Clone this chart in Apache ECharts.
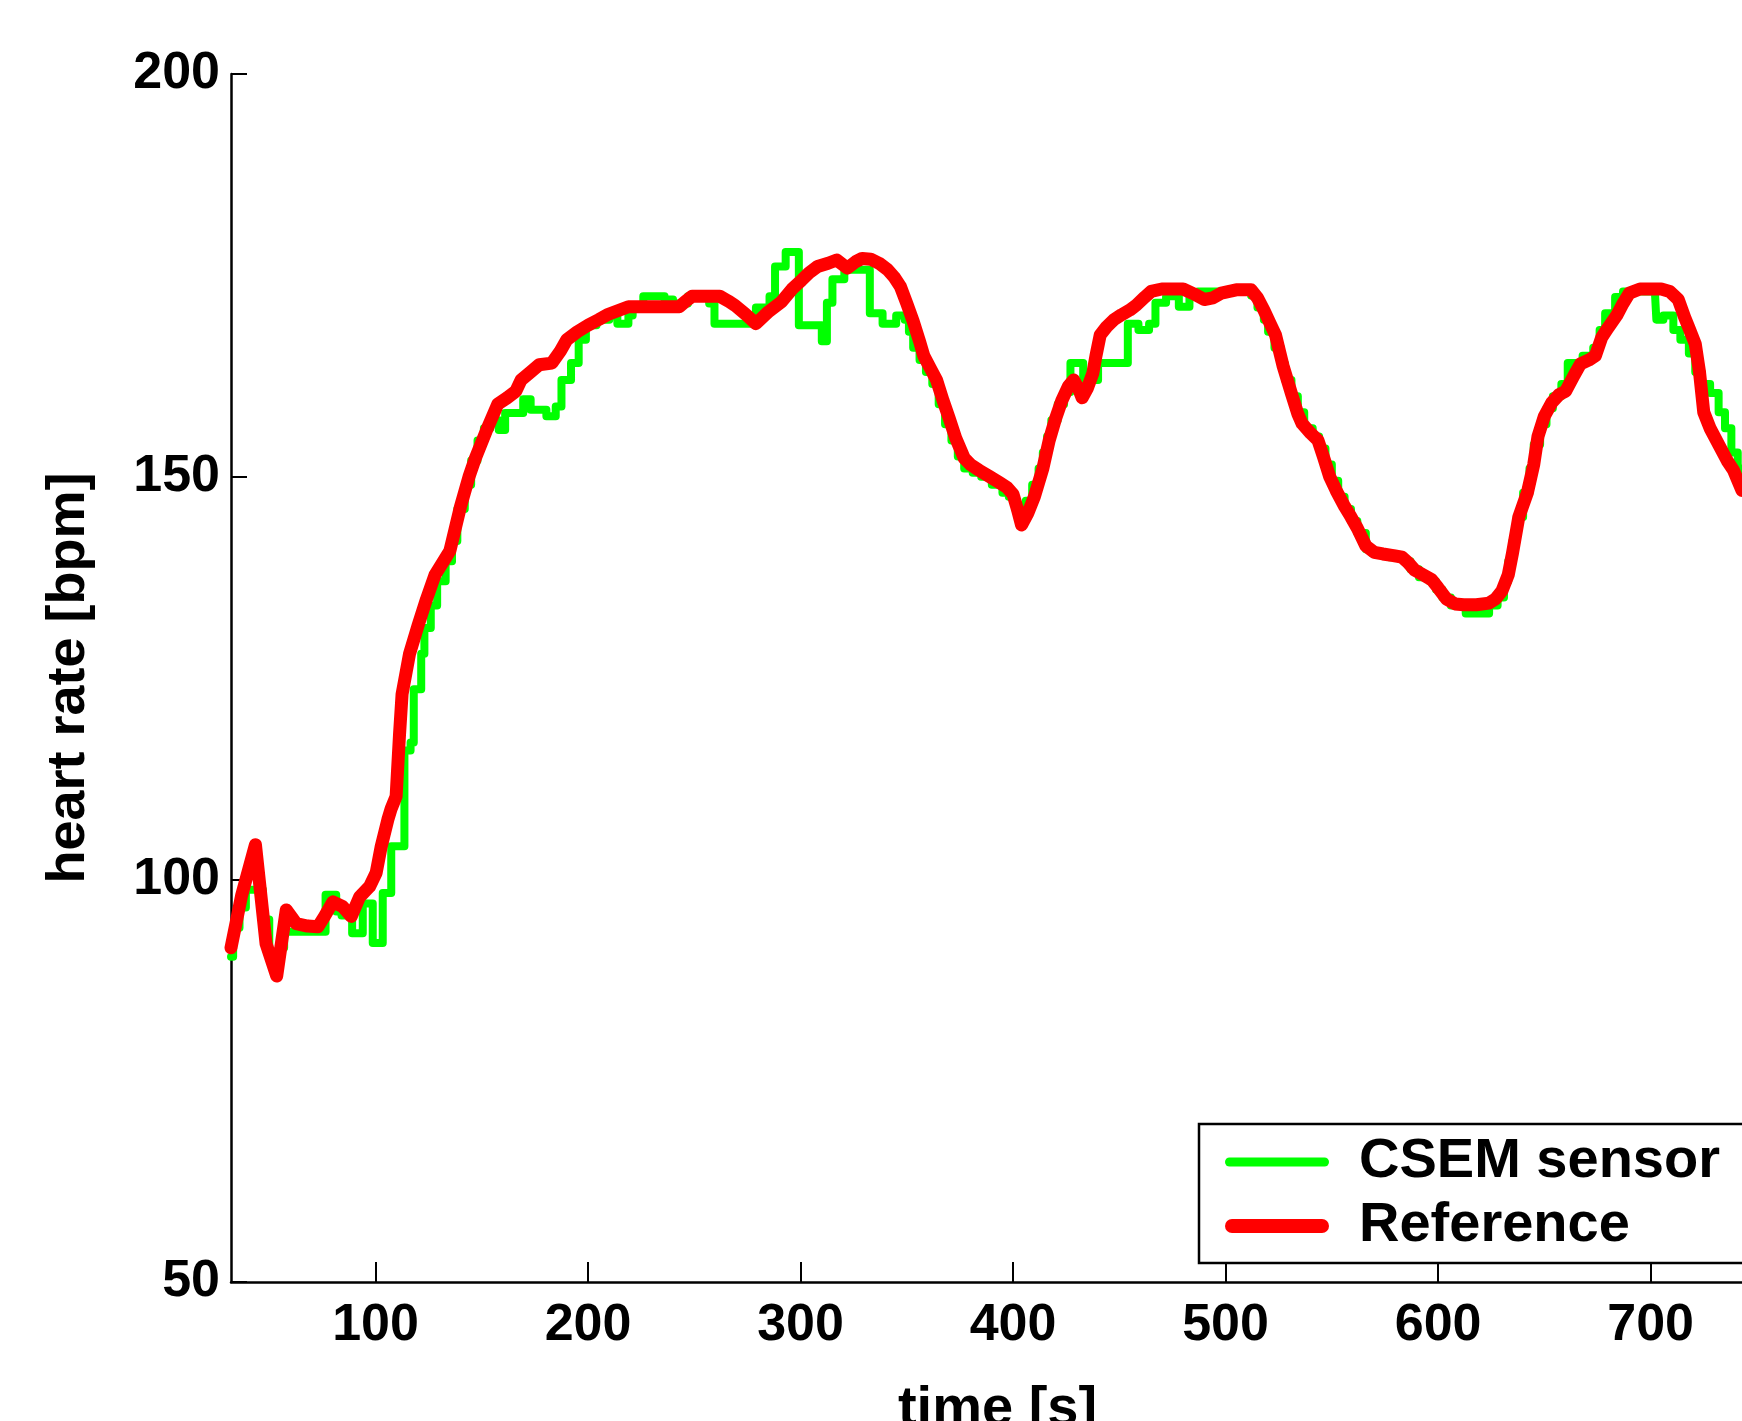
<!DOCTYPE html>
<html>
<head>
<meta charset="utf-8">
<script src="https://cdn.jsdelivr.net/npm/echarts@6/dist/echarts.min.js"></script>
<style>
html,body{margin:0;padding:0;background:#fff;}
#chart{width:1742px;height:1421px;}
</style>
</head>
<body>
<div id="chart"></div>
<script>
// ---- data ----
const xTicks = [100, 200, 300, 400, 500, 600, 700];
const yTicks = [50, 100, 150, 200];
const seriesNames = ['CSEM sensor', 'Reference'];

// Reference (red) [time s, heart rate bpm]
const referenceData = [
  [32, 91.5], [37, 98], [43.5, 104.3], [48.5, 92], [53.5, 88], [58, 96.2], [62.7, 94.5], [68, 94.2],
  [72.9, 94.1], [76, 95.4], [79.9, 97.2], [84.6, 96.6], [88.6, 95.4], [92.5, 97.8], [97.2, 99.1],
  [100.3, 100.8], [102.7, 104.1], [105.8, 107.4], [107.4, 108.8], [109.7, 110.3], [111.3, 118],
  [112.5, 123], [116, 128], [120, 131.5], [124, 134.8], [128, 137.8], [132, 139.5], [135, 140.8],
  [140, 146.3], [144, 150], [147, 152.3], [152, 155.6], [157.5, 159], [162, 159.8], [166, 160.6],
  [168.5, 162], [173, 163], [177, 163.9], [183, 164.1], [187, 165.6], [190, 167], [195, 168],
  [200, 168.8], [205, 169.5], [209, 170.1], [214, 170.6], [219, 171.1], [230, 171.1], [243, 171.1],
  [246, 171.8], [249, 172.4], [262, 172.4], [266, 171.8], [269, 171.3], [274, 170.2], [279, 169],
  [285, 170.5], [291, 171.7], [296, 173.3], [300.5, 174.4], [304, 175.3], [308, 176.1], [313, 176.5],
  [317, 176.9], [320, 176.3], [322, 175.9], [326, 176.7], [329, 177.1], [333, 177], [337, 176.5],
  [341, 175.7], [344, 174.8], [347, 173.6], [350, 171.5], [353, 169.3], [356, 166.8], [358, 165],
  [361, 163.5], [364, 162], [367, 159.5], [370, 157.2], [373, 154.8], [377, 152.3], [380, 151.5],
  [384, 150.8], [389, 150], [394, 149.2], [397, 148.7], [400, 147.8], [402, 146], [404, 144],
  [407, 145.5], [410, 147.5], [414, 151], [417, 154.5], [420, 157.2], [423, 159.5], [426, 161.2],
  [428.5, 162], [431, 160.8], [432.5, 159.8], [435, 161], [437.5, 162.8], [439, 165], [441, 167.6],
  [444, 168.6], [447.5, 169.5], [451, 170.1], [455, 170.7], [458, 171.3], [462, 172.3], [465, 173],
  [470, 173.3], [480, 173.3], [485, 172.7], [490, 172], [494, 172.2], [498, 172.8], [505, 173.2],
  [512, 173.2], [515, 172.2], [518, 170.7], [521, 169], [523.5, 167.6], [527, 163.8], [531, 160.3],
  [534, 157.8], [536, 156.6], [540, 155.4], [543.5, 154.5], [546, 152.5], [549, 150], [552, 148.3],
  [556, 146.3], [559, 145], [562, 143.6], [566, 141.4], [570, 140.6], [574, 140.4], [579, 140.2],
  [583, 140], [586, 139.3], [589, 138.4], [593, 137.8], [597, 137.2], [600, 136.2], [604, 134.8],
  [608, 134.2], [612, 134.1], [618, 134.1], [624, 134.3], [627, 134.8], [630, 135.8], [633, 137.8],
  [635, 140.5], [638, 145], [642, 148], [645, 151.5], [647, 155], [650, 157.5], [653.5, 159.2],
  [657, 160.2], [660, 160.6], [664, 162.6], [667, 164], [671, 164.5], [674, 165], [677, 167.3],
  [680, 168.5], [684, 170], [687, 171.5], [690, 172.8], [695, 173.3], [700, 173.3], [705, 173.3],
  [709, 173], [713, 172], [716, 169.8], [718, 168.5], [721, 166.5], [723, 163], [725, 158],
  [728, 156], [732, 154], [736, 152], [739, 150.8], [743, 148.3]
];

// CSEM sensor (green, stepped) [time s, heart rate bpm]
const sensorData = [
  [32, 90.4], [33, 94], [36, 96.5], [39, 98.7], [45, 98.7], [47, 95], [50, 91], [55, 91.5],
  [57, 93.5], [72, 93.5], [76.5, 98.1], [81.5, 96], [84, 95.5], [89, 93.3], [94, 97], [98.7, 92.1],
  [103.4, 98.3], [107.4, 104.1], [113.6, 116], [116.5, 117], [118, 123.6], [121.5, 128], [123, 131.2],
  [126, 134], [129, 137], [133, 139.5], [136, 142], [138.5, 146], [142, 149], [145, 152], [148, 154.5],
  [151, 156], [154, 157], [158, 155.8], [161, 157.9], [169.5, 159.6], [173, 158.3], [180.4, 157.5],
  [184.8, 158.7], [187.5, 162], [192, 164.1], [195.6, 167], [199, 168.8], [204, 169.5], [210, 170],
  [213.8, 169], [219, 170], [221, 171], [226, 172.4], [236, 172], [240, 171.5], [247, 172.4],
  [257, 171.5], [259.5, 169], [277.5, 169], [279, 171], [285.4, 172.4], [288, 176.1], [293, 177.9],
  [299.2, 168.8], [310, 166.8], [312.4, 171.6], [315, 174.5], [320.6, 175.7], [331.4, 175.7],
  [332.6, 170.3], [338.6, 169], [345, 170], [349, 169.5], [351, 168], [353, 166], [356, 164.5],
  [359, 163], [362, 161.5], [365, 159], [368, 156.5], [371, 154.5], [374, 152.5], [377, 151],
  [381, 150.5], [385, 150], [390, 149], [395, 148], [398, 147.5], [401, 146], [404, 145], [406, 147],
  [409, 149], [412, 151], [414, 153], [416, 155], [418, 157], [421, 159], [424, 160.5], [427, 164.1],
  [433, 162], [440, 164.1], [454, 169], [459, 168.2], [464, 169], [467, 171.6], [472, 172.4],
  [478, 171.1], [483, 172.4], [487, 173], [512, 172.5], [515, 171], [518, 169.5], [520, 168],
  [523, 166], [526, 164], [528, 162], [531, 160], [534, 158], [537, 156], [541, 155], [544, 153.5],
  [547, 151.5], [550, 149.5], [553, 147.5], [556, 146], [559, 144.5], [562, 143], [566, 141],
  [569, 140.5], [577, 140], [584, 139.5], [587, 138.5], [591, 137.5], [596, 137], [599, 136],
  [602, 135], [606, 134], [613, 133], [622, 133], [624, 134], [628, 135], [631, 137], [633, 139.5],
  [635, 142], [637, 145], [640, 148], [643, 151], [645, 154], [648, 156.5], [651, 158.5], [654, 160],
  [658, 161.5], [661, 164.1], [668, 165], [673, 166], [676, 168.2], [678.6, 170.3], [683.3, 172.3],
  [687, 173], [702, 173], [702.7, 169.5], [706, 170], [710.7, 168.2], [714, 167], [718, 165.3],
  [721, 163], [724, 161.5], [728, 160.4], [732, 158], [735, 156], [738, 153], [741, 151], [743, 150]
];

const FONT = "'Liberation Sans', Arial, sans-serif";

const chart = echarts.init(document.getElementById('chart'), null, {renderer: 'canvas'});
chart.setOption({
  animation: false,
  backgroundColor: '#ffffff',
  grid: {left: 231, top: 74, right: 0, bottom: 139, outerBoundsMode: 'none', containLabel: false},
  legend: {
    orient: 'vertical',
    left: 1199,
    top: 1124,
    padding: [10, 60, 9, 26],
    itemWidth: 104,
    itemHeight: 24,
    itemGap: 8,
    borderColor: '#000',
    borderWidth: 2.5,
    backgroundColor: '#fff',
    data: [
      {name: seriesNames[0], icon: 'path://M0,0M104,24M4.5,7.5L99.5,7.5A4.5,4.5,0,0,1,99.5,16.5L4.5,16.5A4.5,4.5,0,0,1,4.5,7.5Z'},
      {name: seriesNames[1], icon: 'path://M0,0M104,24M7,5L97,5A7,7,0,0,1,97,19L7,19A7,7,0,0,1,7,5Z'}
    ],
    textStyle: {fontFamily: FONT, fontSize: 56, fontWeight: 'bold', color: '#000', padding: [0, 0, 0, 25]}
  },
  xAxis: {
    type: 'value',
    min: 32,
    max: 743,
    name: 'time [s]',
    nameLocation: 'middle',
    nameGap: 100,
    nameTextStyle: {fontFamily: FONT, fontSize: 56, fontWeight: 'bold', color: '#000', padding: [0, 0, 0, 22]},
    axisLine: {show: true, onZero: false, lineStyle: {color: '#000', width: 2.5}},
    axisTick: {show: true, inside: true, length: 20, customValues: xTicks, lineStyle: {color: '#000', width: 2}},
    axisLabel: {customValues: xTicks, margin: 18, fontFamily: FONT, fontSize: 52, fontWeight: 'bold', color: '#000'},
    splitLine: {show: false}
  },
  yAxis: {
    type: 'value',
    min: 50,
    max: 200,
    interval: 50,
    name: 'heart rate [bpm]',
    nameLocation: 'middle',
    nameGap: 135,
    nameTextStyle: {fontFamily: FONT, fontSize: 54, fontWeight: 'bold', color: '#000'},
    axisLine: {show: true, onZero: false, lineStyle: {color: '#000', width: 2.5}},
    axisTick: {show: true, inside: true, length: 16, lineStyle: {color: '#000', width: 2}},
    axisLabel: {margin: 11, fontFamily: FONT, fontSize: 52, fontWeight: 'bold', color: '#000',
      customValues: yTicks},
    splitLine: {show: false}
  },
  series: [
    {
      name: seriesNames[0],
      type: 'line',
      step: 'end',
      data: sensorData,
      showSymbol: false,
      symbol: 'none',
      color: '#00ff00',
      lineStyle: {color: '#00ff00', width: 8, join: 'round', cap: 'round'},
      z: 2
    },
    {
      name: seriesNames[1],
      type: 'line',
      data: referenceData,
      showSymbol: false,
      symbol: 'none',
      color: '#ff0000',
      lineStyle: {color: '#ff0000', width: 13, join: 'round', cap: 'round'},
      z: 3
    }
  ]
});
</script>
</body>
</html>
